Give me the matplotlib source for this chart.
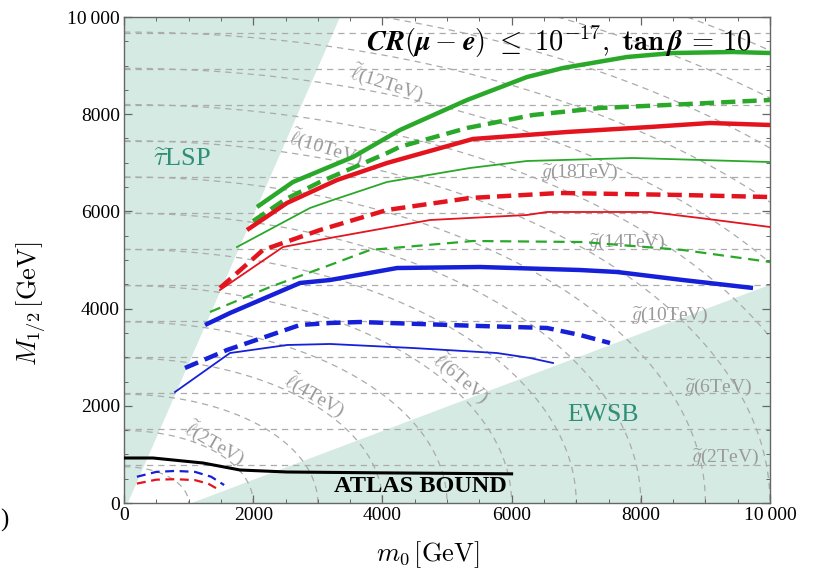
import numpy as np
import matplotlib
matplotlib.use('Agg')
import matplotlib.pyplot as plt
from matplotlib.ticker import MultipleLocator, FuncFormatter

# ---------------- data ----------------
green_thick_x = [2059, 2616, 3545, 4272, 5310, 6238, 6796, 7786, 8498, 9427, 10000]
green_thick_y = [6091, 6605, 7119, 7675, 8292, 8765, 8951, 9177, 9259, 9280, 9259]

green_dash_x = [1997, 2500, 3034, 4071, 4272, 5310, 6331, 7368, 8406, 10000]
green_dash_y = [5800, 6250, 6605, 7200, 7330, 7716, 7984, 8128, 8189, 8292]

red_thick_x = [1904, 2523, 3297, 4071, 5400, 6858, 8142, 9071, 10000]
red_thick_y = [5617, 6173, 6646, 6996, 7490, 7634, 7737, 7819, 7778]

green_thin_x = [1749, 2879, 3235, 4071, 5356, 6238, 7879, 10000]
green_thin_y = [5267, 6070, 6235, 6605, 6893, 7037, 7099, 7016]

red_dash_x = [1486, 2152, 3034, 4071, 5356, 6749, 8653, 10000]
red_dash_y = [4424, 5206, 5617, 6029, 6276, 6379, 6337, 6296]

red_thin_x = [1486, 2461, 3189, 4737, 6238, 6548, 8142, 8916, 10000]
red_thin_y = [4383, 5267, 5453, 5823, 5926, 5988, 5988, 5864, 5679]

green_thin_dash_x = [1331, 2260, 3189, 3808, 5402, 7105, 8653, 10000]
green_thin_dash_y = [3930, 4444, 4897, 5206, 5391, 5370, 5206, 4959]

blue_thick_x = [1254, 1641, 2724, 3189, 4226, 5511, 7059, 7632, 8653, 9737]
blue_thick_y = [3663, 3909, 4527, 4588, 4835, 4856, 4794, 4753, 4588, 4424]

blue_dash_x = [944, 1594, 2724, 3189, 3653, 5511, 6548, 7059, 7523]
blue_dash_y = [2778, 3148, 3663, 3704, 3724, 3642, 3601, 3457, 3292]

blue_thin_x = [789, 1641, 2523, 3189, 4474, 5774, 6285, 6641]
blue_thin_y = [2284, 3086, 3251, 3272, 3189, 3086, 2984, 2881]

atlas_x = [0, 449, 1223, 1796, 2523, 4000, 6000]
atlas_y = [926, 926, 823, 679, 638, 620, 600]

small_blue_x = [200, 500, 800, 1100, 1350, 1550]
small_blue_y = [540, 640, 660, 640, 540, 370]
small_red_x = [200, 500, 800, 1100, 1300, 1460]
small_red_y = [400, 480, 490, 470, 400, 280]

stau_edge_x = [60, 3344]
stau_edge_y = [0, 10000]
ewsb_edge_x = [1050, 10000]
ewsb_edge_y = [0, 4490]

slepton_levels = [1000, 2000, 3000, 4000, 5000, 6000, 7000, 8000, 9000, 10000,
                  11000, 12000, 13000, 14000, 15000, 16000]
gluino_levels = [2000, 4000, 6000, 8000, 10000, 12000, 14000, 16000, 18000,
                 20000, 22000, 24000, 26000]
slepton_coef = 1.8      # m_slep^2 ~ m0^2 + c M^2
gluino_coef = 2.7       # m_gluino ~ c (M - 40)

slep_labels = ['2TeV', '4TeV', '6TeV', '10TeV', '12TeV']
slep_label_x = [1409, 2957, 5232, 3127, 4071]
slep_label_y = [1235, 2222, 2572, 7325, 8642]
slep_label_rot = [-30, -30, -40, -17, -18]

glu_labels = ['2TeV', '6TeV', '10TeV', '14TeV', '18TeV']
glu_label_x = [9303, 9195, 8452, 7786, 7059]
glu_label_y = [946, 2387, 3868, 5370, 6811]

x_ticks = [0, 2000, 4000, 6000, 8000, 10000]
y_ticks = [0, 2000, 4000, 6000, 8000, 10000]

# ---------------- style ----------------
plt.rcParams['mathtext.fontset'] = 'cm'
plt.rcParams['font.family'] = ['Liberation Serif', 'DejaVu Serif']

GREEN = '#2aa82a'
RED = '#e3141e'
BLUE = '#1520d8'
SHADE = '#d4eae2'
TEAL = '#2e8e76'
GRAY = '#ababab'

fig = plt.figure(figsize=(8.19, 5.79), dpi=100)
ax = fig.add_axes([124 / 819, 1 - 503 / 579, 646 / 819, 486 / 579])
ax.set_xlim(0, 10000)
ax.set_ylim(0, 10000)

# shaded regions
ax.fill([0, stau_edge_x[0], stau_edge_x[1], 0],
        [0, stau_edge_y[0], stau_edge_y[1], 10000], color=SHADE, lw=0, zorder=0)
ax.fill([ewsb_edge_x[0], ewsb_edge_x[1], 10000],
        [ewsb_edge_y[0], ewsb_edge_y[1], 0], color=SHADE, lw=0, zorder=0)

# background mass contours
g0 = np.linspace(0, 10000, 401)
M0, M12 = np.meshgrid(g0, g0)
slep = np.sqrt(M0 ** 2 + slepton_coef * M12 ** 2)
glu = gluino_coef * (M12 - 40) + 0 * M0
ax.contour(M0, M12, slep, levels=slepton_levels, colors=GRAY,
           linewidths=0.9, linestyles=[(0, (5, 4))], zorder=1)
ax.contour(M0, M12, glu, levels=gluino_levels, colors=GRAY,
           linewidths=0.9, linestyles=[(0, (5, 4))], zorder=1)

for t, x, y, r in zip(slep_labels, slep_label_x, slep_label_y, slep_label_rot):
    ax.text(x, y, r'$\widetilde{\ell}$(' + t + ')', color='#9a9a9a', fontsize=14,
            rotation=r, ha='center', va='center', rotation_mode='anchor', zorder=2)
for t, x, y in zip(glu_labels, glu_label_x, glu_label_y):
    ax.text(x, y, r'$\widetilde{g}$(' + t + ')', color='#9a9a9a', fontsize=14,
            ha='center', va='center', zorder=2)

# data curves
lw_thick, lw_thin = 3.2, 1.3
dash_thick = (0, (3.2, 1.6))
ax.plot(green_thick_x, green_thick_y, color=GREEN, lw=lw_thick, zorder=5, solid_capstyle='butt')
ax.plot(green_dash_x, green_dash_y, color=GREEN, lw=lw_thick, ls=dash_thick, zorder=5)
ax.plot(red_thick_x, red_thick_y, color=RED, lw=lw_thick, zorder=5, solid_capstyle='butt')
ax.plot(green_thin_x, green_thin_y, color=GREEN, lw=lw_thin, zorder=5)
ax.plot(red_dash_x, red_dash_y, color=RED, lw=lw_thick, ls=dash_thick, zorder=5)
ax.plot(red_thin_x, red_thin_y, color=RED, lw=lw_thin, zorder=5)
ax.plot(green_thin_dash_x, green_thin_dash_y, color=GREEN, lw=1.6, ls=(0, (5, 3)), zorder=5)
ax.plot(blue_thick_x, blue_thick_y, color=BLUE, lw=lw_thick, zorder=5, solid_capstyle='butt')
ax.plot(blue_dash_x, blue_dash_y, color=BLUE, lw=lw_thick, ls=dash_thick, zorder=5)
ax.plot(blue_thin_x, blue_thin_y, color=BLUE, lw=lw_thin, zorder=5)
ax.plot(atlas_x, atlas_y, color='black', lw=2.2, zorder=5)
ax.plot(small_blue_x, small_blue_y, color=BLUE, lw=1.6, ls=(0, (4, 2.5)), zorder=5)
ax.plot(small_red_x, small_red_y, color=RED, lw=1.6, ls=(0, (4, 2.5)), zorder=5)

# texts
ax.text(4582, 330, 'ATLAS BOUND', fontsize=17.5, fontweight='bold', ha='center',
        va='center', zorder=6)
ax.text(900, 7060, r'$\widetilde{\tau}$LSP', fontsize=19, color=TEAL, ha='center',
        va='center', zorder=6)
ax.text(7415, 1811, 'EWSB', fontsize=18.5, color=TEAL, ha='center', va='center', zorder=6)
ax.text(9720, 9480,
        r'$\boldsymbol{CR(\mu - e)\ \leq\ }\mathbf{10^{-17}},\ \mathbf{tan}\,\boldsymbol{\beta}\,\mathbf{=\,10}$',
        fontsize=20.5, ha='right', va='center', zorder=6)

# axes styling
ax.xaxis.set_major_locator(MultipleLocator(2000))
ax.yaxis.set_major_locator(MultipleLocator(2000))
ax.xaxis.set_minor_locator(MultipleLocator(500))
ax.yaxis.set_minor_locator(MultipleLocator(500))
fmt = FuncFormatter(lambda v, p: '10\u2009000' if abs(v - 10000) < 1 else f'{int(round(v))}')
ax.xaxis.set_major_formatter(fmt)
ax.yaxis.set_major_formatter(fmt)
ax.tick_params(which='both', direction='in', top=True, right=True, color='#666666')
ax.tick_params(which='major', length=6, width=0.9, labelsize=14, pad=3)
ax.tick_params(which='minor', length=3, width=0.7)
for s in ax.spines.values():
    s.set_color('#666666')
    s.set_linewidth(1.0)

ax.set_xlabel(r'$m_0\,[\mathrm{GeV}]$', fontsize=19)
ax.set_ylabel(r'$M_{1/2}\,[\mathrm{GeV}]$', fontsize=19)
ax.xaxis.set_label_coords(0.47, -0.075)
ax.yaxis.set_label_coords(-0.118, 0.41)

fig.text(4 / 819, 1 - 520 / 579, ')', fontsize=18, ha='center', va='center')

fig.savefig('out.png', dpi=100)
